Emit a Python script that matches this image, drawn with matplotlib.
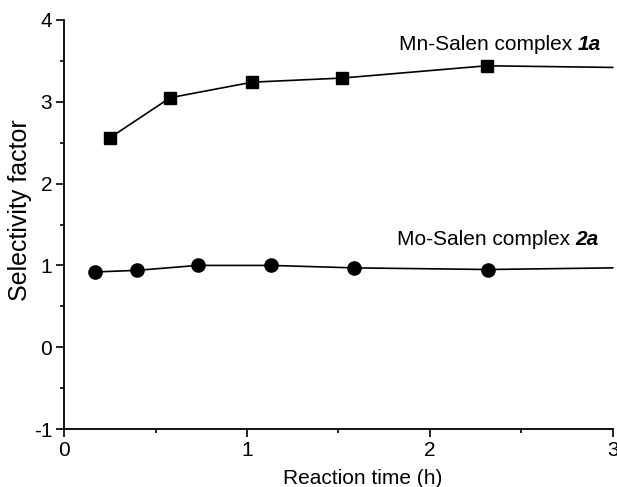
import matplotlib.pyplot as plt
from matplotlib.ticker import MultipleLocator

plt.rcParams['font.family'] = ['Liberation Sans', 'DejaVu Sans']
plt.rcParams['axes.unicode_minus'] = False

# Mn-Salen complex 1a (the last point only carries the line to the edge)
mn_time = [0.25, 0.58, 1.03, 1.52, 2.31, 3.0]
mn_sel = [2.56, 3.05, 3.24, 3.29, 3.44, 3.42]

# Mo-Salen complex 2a
mo_time = [0.17, 0.40, 0.73, 1.13, 1.585, 2.32, 3.0]
mo_sel = [0.92, 0.94, 1.00, 1.00, 0.97, 0.95, 0.97]

x_ticks = [0, 1, 2, 3]
y_ticks = [-1, 0, 1, 2, 3, 4]

fig = plt.figure(figsize=(6.17, 4.87), dpi=100)
ax = fig.add_axes([0.104, 0.119, 0.889, 0.840])

ax.plot(mn_time, mn_sel, color='black', lw=1.2, marker='s', ms=8.5,
        markevery=list(range(len(mn_time) - 1)), clip_on=False)
ax.plot(mo_time, mo_sel, color='black', lw=1.2, marker='o', ms=9.5,
        markevery=list(range(len(mo_time) - 1)), clip_on=False)

ax.set_xlim(0, 3)
ax.set_ylim(-1, 4)
ax.set_xticks(x_ticks)
ax.set_yticks(y_ticks)
ax.xaxis.set_minor_locator(MultipleLocator(0.5))
ax.yaxis.set_minor_locator(MultipleLocator(0.5))
ax.spines['top'].set_visible(False)
ax.spines['right'].set_visible(False)
for s in ('left', 'bottom'):
    ax.spines[s].set_linewidth(1.3)
ax.tick_params(which='major', direction='out', length=5.5, width=1.2,
               labelsize=15, pad=3)
ax.tick_params(which='minor', direction='out', length=3, width=1.2)

# axis titles, placed as in the original (slightly off-centre)
ax.set_xlabel('Reaction time (h)', fontsize=15, ha='center', va='center')
ax.xaxis.set_label_coords(0.545, -0.122)
ax.set_ylabel('Selectivity factor', fontsize=18, ha='center', va='center')
ax.yaxis.set_label_coords(-0.080, 0.535)


def label(x, y, main, tag):
    t = ax.text(x, y, main, fontsize=15, ha='left', va='bottom')
    ax.annotate(tag, xy=(1, 0), xycoords=t, fontsize=15, ha='left', va='bottom',
                fontweight='bold', fontstyle='italic')


label(1.83, 3.58, 'Mn-Salen complex ', '1a')
label(1.82, 1.20, 'Mo-Salen complex ', '2a')

fig.savefig('out.png', dpi=100)
